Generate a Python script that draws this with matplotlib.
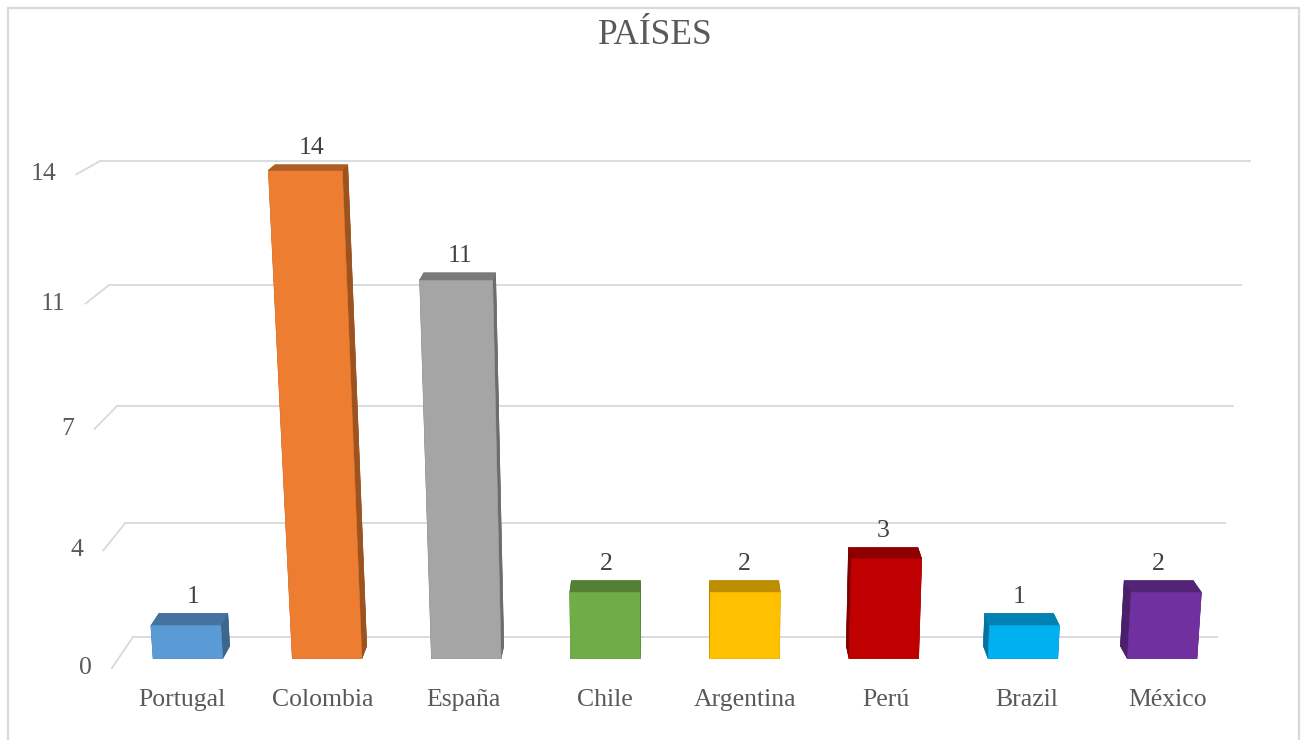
import numpy as np
import matplotlib
matplotlib.use('Agg')
import matplotlib.pyplot as plt
from matplotlib import colors as mcolors
from matplotlib import transforms as mtransforms
from matplotlib.patches import Rectangle
from mpl_toolkits.mplot3d import proj3d

# ---------------- data ----------------
categories = ['Portugal', 'Colombia', 'España', 'Chile', 'Argentina', 'Perú', 'Brazil', 'México']
values = [1, 14, 11, 2, 2, 3, 1, 2]
bar_colors = ['#5B9BD5', '#ED7D31', '#A5A5A5', '#70AD47', '#FFC000', '#C00000', '#00B0F0', '#7030A0']
tick_values = [0, 3.5, 7, 10.5, 14]
tick_labels = ['0', '4', '7', '11', '14']
title = 'PAÍSES'

# ---------------- figure ----------------
W, H = 1305, 740
fig = plt.figure(figsize=(W / 100, H / 100), dpi=100)
fig.patch.set_facecolor('white')
plt.rcParams['font.family'] = ['Liberation Serif', 'DejaVu Serif']

ax = fig.add_axes([0, 0, 1, 1], projection='3d')
ax.set_axis_off()
ax.computed_zorder = False

n = len(categories)
x_lo, x_hi = -0.5, n - 0.5
depth = 0.62
bar_w = 0.5
bar_d = 0.25
y0 = (depth - bar_d) / 2
z_hi = tick_values[-1]

ax.set_xlim(x_lo, x_hi)
ax.set_ylim(0, depth)
ax.set_zlim(0, z_hi)
ax.view_init(elev=15, azim=-90)
ax.set_proj_type('persp', focal_length=0.33)

# layout calibration: where the back wall corners should land (pixels from top-left)
bl_px = (133, 637)
tr_px = (1250, 161)


def proj(x, y, z):
    M = ax.get_proj()
    u, v, _ = proj3d.proj_transform(np.atleast_1d(float(x)), np.atleast_1d(float(y)),
                                    np.atleast_1d(float(z)), M)
    return float(u[0]), float(v[0])


zasp = 3.6
want = (bl_px[1] - tr_px[1]) / (tr_px[0] - bl_px[0])
for _ in range(8):
    ax.set_box_aspect((n, depth, zasp))
    u0, v0 = proj(x_lo, depth, 0)
    u1, v1 = proj(x_hi, depth, z_hi)
    zasp *= want / ((v1 - v0) / (u1 - u0))
ax.set_box_aspect((n, depth, zasp))
u0, v0 = proj(x_lo, depth, 0)
u1, v1 = proj(x_hi, depth, z_hi)

umin, umax = ax.viewLim.intervalx
vmin, vmax = ax.viewLim.intervaly
uw = umax - umin
S = (tr_px[0] - bl_px[0]) * uw / (u1 - u0)
left = bl_px[0] - (u0 - umin) / uw * S
bottom = (H - bl_px[1]) - (v0 - vmin) / (vmax - vmin) * S
ax.set_position([left / W, bottom / H, S / W, S / H])

# ---------------- walls / gridlines ----------------
grid_c = '#D9D9D9'
for t in tick_values:
    ax.plot([x_lo, x_hi], [depth, depth], [t, t], color=grid_c, lw=1.3, zorder=1)
    ax.plot([x_lo, x_lo], [0, depth], [t, t], color=grid_c, lw=1.3, zorder=1)

# ---------------- bars ----------------
def scale_col(c, f):
    r, g, b = mcolors.to_rgb(c)
    return (r * f, g * f, b * f, 1.0)

facecols = []
for c in bar_colors:
    front = mcolors.to_rgba(c)
    top = scale_col(c, 0.74)
    side = scale_col(c, 0.66)
    # order: bottom, top, front, back, left, right
    facecols += [side, top, front, side, side, side]

xs = np.arange(n) - bar_w / 2
ax.bar3d(xs, np.full(n, y0), np.zeros(n), bar_w, bar_d, values,
         color=facecols, shade=False, edgecolors=facecols, linewidth=0.4, zorder=2)

# ---------------- texts (placed at projected points) ----------------
txt_c = '#595959'
fs = 18.5


def off(dx, dy):
    return mtransforms.offset_copy(ax.transData, fig=fig, x=dx, y=dy, units='dots')


for t, lab in zip(tick_values, tick_labels):
    u, v = proj(x_lo, 0, t)
    ax.text2D(u, v, lab, transform=off(-20, 0), ha='right', va='center',
              fontsize=fs, color=txt_c, zorder=3)
for i, (cat, val) in enumerate(zip(categories, values)):
    u, v = proj(i, 0, 0)
    ax.text2D(u, v, cat, transform=off(0, -32), ha='center', va='center',
              fontsize=fs, color=txt_c, zorder=3)
    u, v = proj(i, y0 + bar_d, val)
    ax.text2D(u, v, str(val), transform=off(0, 6), ha='center', va='bottom',
              fontsize=fs, color='#404040', zorder=3)

fig.text(655 / W, 1 - 35 / H, title, ha='center', va='center', fontsize=25.5,
         color=txt_c)

fig.add_artist(Rectangle((7.5 / W, -0.05), (1299 - 7.5) / W, 1.05 - 8 / H,
                         transform=fig.transFigure, fill=False,
                         edgecolor=grid_c, lw=1.6))

fig.savefig('out.png', dpi=100, facecolor='white')
